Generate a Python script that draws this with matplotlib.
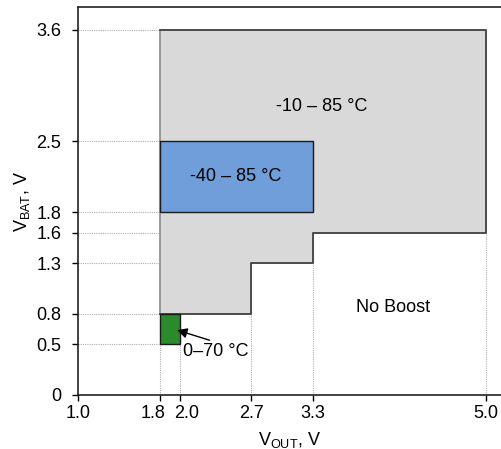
import matplotlib
matplotlib.use("Agg")
import matplotlib.pyplot as plt
from matplotlib.patches import Polygon, Rectangle
from matplotlib.transforms import ScaledTranslation

plt.rcParams['font.family'] = ['Liberation Sans', 'DejaVu Sans']

x_ticks = [1.0, 1.8, 2.0, 2.7, 3.3, 5.0]
x_tick_labels = ["1.0", "1.8", "2.0", "2.7", "3.3", "5.0"]
y_ticks = [0, 0.5, 0.8, 1.3, 1.6, 1.8, 2.5, 3.6]
y_tick_labels = ["0", "0.5", "0.8", "1.3", "1.6", "1.8", "2.5", "3.6"]

# -10 – 85 °C region outline (V_OUT, V_BAT)
wide_x = [1.8, 2.7, 2.7, 3.3, 3.3, 5.0, 5.0, 1.8]
wide_y = [0.8, 0.8, 1.3, 1.3, 1.6, 1.6, 3.6, 3.6]
# -40 – 85 °C region
blue_x = [1.8, 3.3]
blue_y = [1.8, 2.5]
# 0–70 °C region
green_x = [1.8, 2.0]
green_y = [0.5, 0.8]

# vertical guides: x value and top end
vguide_x = [1.8, 2.0, 2.7, 3.3, 5.0]
vguide_top = [0.5, 0.5, 1.3, 1.6, 1.6]
# horizontal guides: from x=1.0 to x=1.8
hguide_y = [0.5, 0.8, 1.3, 1.6, 1.8, 2.5, 3.6]

fig = plt.figure(figsize=(5.01, 4.49), dpi=100)
ax = fig.add_axes([0.1557, 0.1203, 0.8443, 0.8641])
ax.set_xlim(1.0, 5.147)
ax.set_ylim(0, 3.826)

guide_kw = dict(color='#b0b0b0', lw=0.8, ls=(0, (1, 1)), zorder=0)
for xv, top in zip(vguide_x, vguide_top):
    ax.plot([xv, xv], [0, top], **guide_kw)
for yv in hguide_y:
    ax.plot([1.0, 1.8], [yv, yv], **guide_kw)

ax.add_patch(Polygon(list(zip(wide_x, wide_y)), closed=True,
                     facecolor='#d9d9d9', edgecolor='none', zorder=1))
# outline: left edge lighter, rest dark
ax.plot(wide_x + [wide_x[0]], wide_y + [wide_y[0]], color='#8a8a8a', lw=1.2, zorder=1.5)
ax.plot(wide_x, wide_y, color='#404040', lw=1.2, zorder=1.6)
ax.add_patch(Rectangle((blue_x[0], blue_y[0]), blue_x[1] - blue_x[0], blue_y[1] - blue_y[0],
                       facecolor='#6f9edb', edgecolor='#1a1a1a', lw=1.0, zorder=2))
ax.add_patch(Rectangle((green_x[0], green_y[0]), green_x[1] - green_x[0], green_y[1] - green_y[0],
                       facecolor='#2b8a2b', edgecolor='#1a1a1a', lw=1.0, zorder=2))

ax.text(3.39, 2.84, "-10 – 85 °C", ha='center', va='center', fontsize=13)
ax.text(2.55, 2.15, "-40 – 85 °C", ha='center', va='center', fontsize=13)
ax.text(4.09, 0.86, "No Boost", ha='center', va='center', fontsize=13)
ax.text(2.03, 0.43, "0–70 °C", ha='left', va='center', fontsize=13)
ax.annotate("", xy=(1.97, 0.64), xytext=(2.29, 0.54),
            arrowprops=dict(arrowstyle='-|>', color='black', lw=1.0,
                            shrinkA=0, shrinkB=0, mutation_scale=15))

ax.set_xticks(x_ticks)
ax.set_xticklabels(x_tick_labels)
ax.set_yticks(y_ticks)
ax.set_yticklabels(y_tick_labels)
ax.tick_params(axis='x', labelsize=13, length=4, width=1, direction='out', pad=3)
ax.tick_params(axis='y', labelsize=13, length=4, width=1, direction='out', pad=8)

# nudge crowded x labels apart
xl = ax.get_xticklabels()
xl[1].set_transform(xl[1].get_transform() + ScaledTranslation(-6.5 / 100, 0, fig.dpi_scale_trans))
xl[2].set_transform(xl[2].get_transform() + ScaledTranslation(7 / 100, 0, fig.dpi_scale_trans))

ax.spines['right'].set_visible(False)
for s in ['left', 'bottom', 'top']:
    ax.spines[s].set_linewidth(1.2)
    ax.spines[s].set_color('#222222')

ax.set_xlabel(r"V$_{\mathregular{OUT}}$, V", fontsize=13, labelpad=6)
ax.set_ylabel(r"V$_{\mathregular{BAT}}$, V", fontsize=13, labelpad=3)

fig.savefig("out.png", dpi=100)
